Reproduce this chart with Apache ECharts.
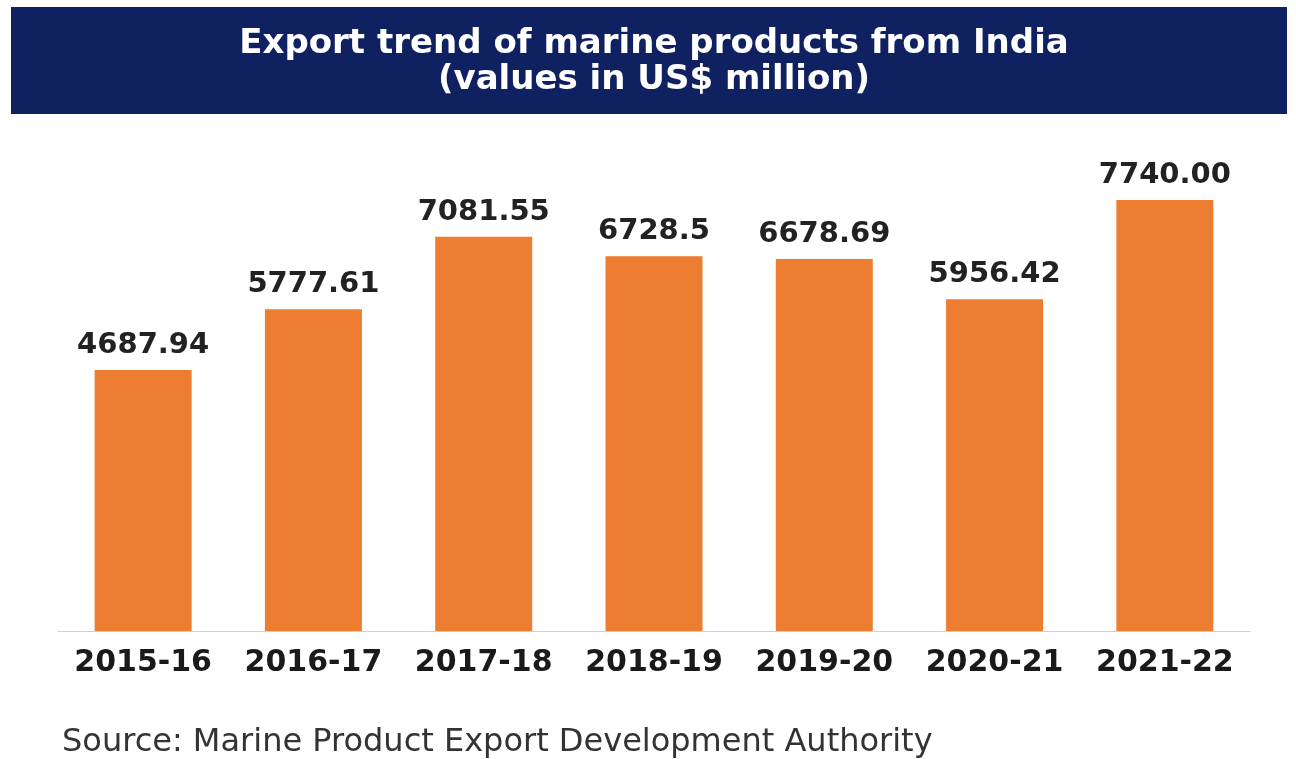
<!DOCTYPE html>
<html>
<head>
<meta charset="utf-8">
<title>Export trend of marine products from India</title>
<script src="https://cdn.jsdelivr.net/npm/echarts@6/dist/echarts.min.js"></script>
<style>
    html, body { margin: 0; padding: 0; background: #fff; }
    #chart { width: 1296px; height: 759px; }
</style>
</head>
<body>
<div id="chart"></div>
<script>
// 数据
var years = ['2015-16', '2016-17', '2017-18', '2018-19', '2019-20', '2020-21', '2021-22'];
var exportValues = [4687.94, 5777.61, 7081.55, 6728.5, 6678.69, 5956.42, 7740.00];
var valueLabels = ['4687.94', '5777.61', '7081.55', '6728.5', '6678.69', '5956.42', '7740.00'];

var myChart = echarts.init(document.getElementById('chart'));

var option = {
    backgroundColor: '#fff',
    animation: false,
    title: {
        text: 'Export trend of marine products from India\n(values in US$ million)',
        left: 649,
        textAlign: 'center',
        top: 21,
        textStyle: {
            color: '#fff',
            fontFamily: 'DejaVu Sans',
            fontWeight: 'bold',
            fontSize: 34,
            lineHeight: 36
        }
    },
    graphic: [
        {
            type: 'rect',
            z: -1,
            shape: { x: 11, y: 7, width: 1276, height: 107 },
            style: { fill: '#0f2161' }
        },
        {
            type: 'text',
            left: 62,
            top: 727,
            style: {
                text: 'Source: Marine Product Export Development Authority',
                fill: '#333',
                fontFamily: 'DejaVu Sans',
                fontSize: 32
            }
        }
    ],
    grid: {
        left: 58,
        right: 46,
        top: 185.5,
        bottom: 128,
        containLabel: false
    },
    xAxis: {
        type: 'category',
        data: years,
        axisLine: { lineStyle: { color: '#d0d0d0', width: 1 } },
        axisTick: { show: false },
        axisLabel: {
            interval: 0,
            margin: 17,
            color: '#1a1a1a',
            fontFamily: 'DejaVu Sans',
            fontWeight: 'bold',
            fontSize: 30
        }
    },
    yAxis: {
        type: 'value',
        min: 0,
        max: 8000,
        show: false,
        splitLine: { show: false }
    },
    series: [
        {
            type: 'bar',
            data: exportValues,
            barWidth: 97,
            itemStyle: { color: '#ed7d31' },
            label: {
                show: true,
                position: 'top',
                distance: 10,
                color: '#222',
                fontFamily: 'DejaVu Sans',
                fontWeight: 'bold',
                fontSize: 29,
                formatter: function (p) {
                    return valueLabels[p.dataIndex];
                }
            }
        }
    ]
};

myChart.setOption(option);
window.onresize = function () {
    myChart.resize();
};
</script>
</body>
</html>
